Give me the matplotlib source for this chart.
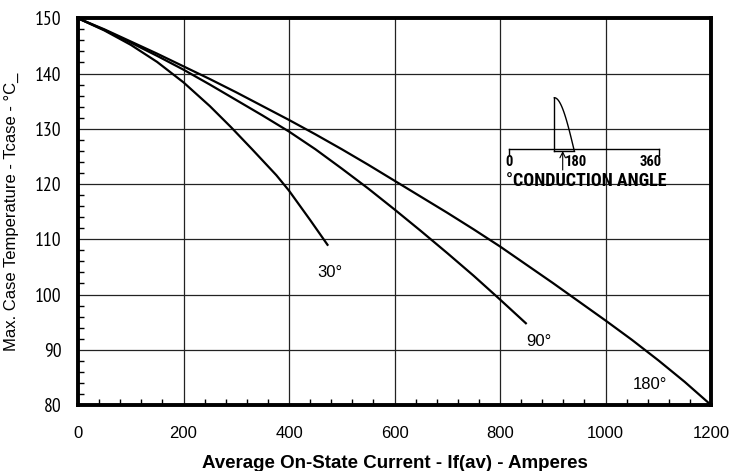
import matplotlib
matplotlib.use("Agg")
import matplotlib.pyplot as plt
import numpy as np
from matplotlib.ticker import MultipleLocator
import logging

logging.getLogger('matplotlib.font_manager').setLevel(logging.ERROR)
plt.rcParams['font.family'] = ['Liberation Sans', 'DejaVu Sans']
NARROW = ['Liberation Sans Narrow', 'Arial Narrow', 'PT Sans Narrow', 'Roboto Condensed',
          'Archivo Narrow', 'Liberation Sans']
CONDENSED = ['Roboto Condensed', 'PT Sans Narrow', 'Liberation Sans']

# Derating curves: average on-state current (A) vs. max case temperature (°C)
current_30 = [0, 50, 100, 150, 200, 250, 290, 330, 376, 400, 440, 473]
tcase_30 = [150, 147.8, 145.2, 142.1, 138.4, 134.1, 130.3, 126.3, 121.6, 118.8, 113.5, 109.0]

current_90 = [0, 50, 100, 150, 200, 250, 300, 350, 400, 450, 500, 550, 600, 650, 700,
              750, 800, 849]
tcase_90 = [150, 147.9, 145.6, 143.2, 140.7, 138.0, 135.2, 132.4, 129.5, 126.3, 122.8, 119.2,
            115.4, 111.5, 107.5, 103.4, 99.1, 94.8]

current_180 = [0, 50, 100, 150, 200, 250, 300, 350, 400, 450, 500, 550, 600, 650, 700, 750,
               800, 850, 900, 950, 1000, 1050, 1100, 1150, 1200]
tcase_180 = [150, 148.0, 145.8, 143.6, 141.3, 139.0, 136.6, 134.1, 131.6, 129.0, 126.3, 123.5,
             120.6, 117.7, 114.8, 111.8, 108.7, 105.4, 102.1, 98.7, 95.3, 91.8, 88.1, 84.2, 80.0]

angle_labels = ['30°', '90°', '180°']
label_current = [478, 874, 1085]
label_tcase = [104.0, 91.5, 83.7]

x_ticks = [0, 200, 400, 600, 800, 1000, 1200]
y_ticks = [80, 90, 100, 110, 120, 130, 140, 150]

fig = plt.figure(figsize=(7.30, 4.71), dpi=100)
ax = fig.add_axes([78 / 730, 1 - 405 / 471, (711 - 78) / 730, (405 - 18.3) / 471])

for xs, ys in [(current_30, tcase_30), (current_90, tcase_90), (current_180, tcase_180)]:
    ax.plot(xs, ys, color='black', lw=1.6, solid_joinstyle='round', zorder=3)

for txt, xv, yv in zip(angle_labels, label_current, label_tcase):
    ax.text(xv, yv, txt, ha='center', va='center', fontsize=12)

ax.set_xlim(0, 1200)
ax.set_ylim(80, 150)
ax.set_xticks(x_ticks)
ax.set_yticks(y_ticks)
ax.xaxis.set_minor_locator(MultipleLocator(40))
ax.yaxis.set_minor_locator(MultipleLocator(2))
ax.grid(True, which='major', color='#222222', lw=0.9)
ax.tick_params(which='major', length=0)
ax.tick_params(axis='y', which='major', pad=12)
ax.tick_params(axis='x', which='major', labelsize=12, pad=15)
ax.tick_params(which='minor', direction='in', length=4, width=1.0, top=False, right=False)
for lbl in ax.get_yticklabels():
    lbl.set_fontfamily(NARROW)
    lbl.set_fontsize(14)
for sp in ax.spines.values():
    sp.set_linewidth(2.8)

ax.set_xlabel('Average On-State Current - If(av) - Amperes', fontsize=13.5,
              fontweight='bold', labelpad=10)
ax.set_ylabel('Max. Case Temperature - Tcase - °C_', fontsize=12, labelpad=11)

# Conduction-angle sketch, drawn in its own pixel-like frame
ins = fig.add_axes([500 / 730, 1 - 192 / 471, 170 / 730, 102 / 471])
ins.set_xlim(500, 670)
ins.set_ylim(192, 90)
ins.axis('off')
ins.patch.set_alpha(0)
lw = 1.0
ins.plot([509, 659], [149, 149], color='black', lw=lw)
ins.plot([509, 509], [149, 155], color='black', lw=lw)
ins.plot([659, 659], [149, 155], color='black', lw=lw)
ins.plot([554.3, 554.3], [97.7, 151], color='black', lw=lw)
ins.plot([554.3, 574.3], [151, 151], color='black', lw=lw)
phase = np.linspace(np.pi / 2, np.pi, 60)
ins.plot(554.3 + 20 * (phase - np.pi / 2) / (np.pi / 2), 151 - 53.3 * np.sin(phase),
         color='black', lw=lw)
ins.annotate('', xy=(562.7, 151), xytext=(562.7, 170),
             arrowprops=dict(arrowstyle='->', lw=0.8, color='black', shrinkA=0, shrinkB=0))
for t, xv in [('0', 509), ('180', 575.5), ('360', 651)]:
    ins.text(xv, 162, t, ha='center', va='center', fontsize=10.5, fontweight='bold',
             family=CONDENSED)
ins.text(506, 181.5, '°CONDUCTION ANGLE', ha='left', va='center', fontsize=13,
         fontweight='bold', family=CONDENSED)

fig.savefig('out.png', dpi=100)
